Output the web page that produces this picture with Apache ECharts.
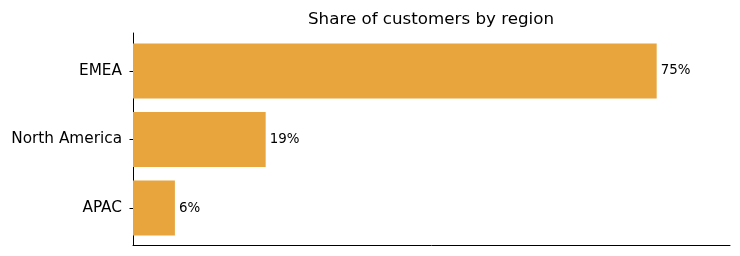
<!DOCTYPE html>
<html><head><meta charset="utf-8">
<script src="https://cdn.jsdelivr.net/npm/echarts@6/dist/echarts.min.js"></script>
<style>html,body{margin:0;padding:0;background:#fff}#c{width:740px;height:256px}</style>
</head><body><div id="c"></div>
<script>
const categories = ['APAC', 'North America', 'EMEA'];
const shares = [6, 19, 75];
const titleText = 'Share of customers by region';
const xMax = 85.5;

const font = 'DejaVu Sans';
const chart = echarts.init(document.getElementById('c'), null, {renderer: 'canvas'});
chart.setOption({
  animation: false,
  backgroundColor: '#fff',
  title: {
    text: titleText, left: 308, top: 11, padding: 0,
    textStyle: {fontFamily: font, fontSize: 16.7, fontWeight: 'normal', color: '#000'}
  },
  grid: [
    {left: 133, right: 10, top: 33, height: 212},
    {left: 133, right: 10, top: 36.6, height: 205.8}
  ],
  xAxis: [
    {gridIndex: 0, type: 'value', min: 0, max: xMax,
     axisLine: {show: true, lineStyle: {color: '#000', width: 1}},
     axisTick: {show: false}, axisLabel: {show: false}, splitLine: {show: false}},
    {gridIndex: 1, type: 'value', min: 0, max: xMax, show: false, splitLine: {show: false}}
  ],
  yAxis: [
    {gridIndex: 0, type: 'value', min: 0, max: 1,
     axisLine: {show: true, lineStyle: {color: '#000', width: 1}},
     axisTick: {show: false}, axisLabel: {show: false}, splitLine: {show: false}},
    {gridIndex: 1, type: 'category', data: categories,
     axisLine: {show: false},
     axisTick: {show: true, alignWithLabel: true, length: 3.5, lineStyle: {color: '#000'}},
     axisLabel: {fontFamily: font, fontSize: 15.3, color: '#000', margin: 11}}
  ],
  series: [{
    type: 'bar', xAxisIndex: 1, yAxisIndex: 1, data: shares,
    barWidth: 55,
    itemStyle: {color: '#e8a43d'},
    label: {show: true, position: 'right', distance: 4, formatter: '{c}%',
            fontFamily: font, fontSize: 13.4, color: '#000'}
  }]
});
</script></body></html>
